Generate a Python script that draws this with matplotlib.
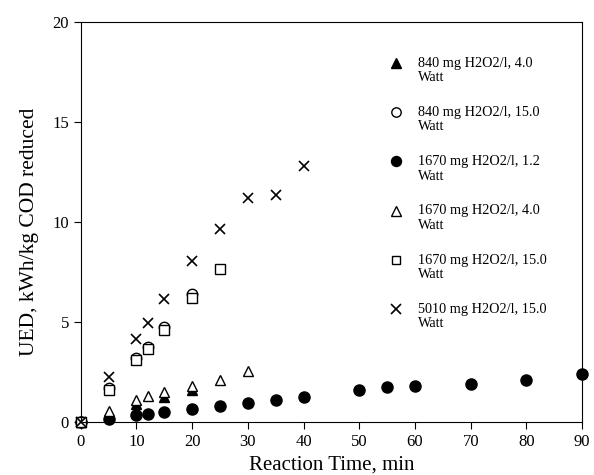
import matplotlib
matplotlib.use("Agg")
import matplotlib.pyplot as plt
import numpy as np
from matplotlib.legend_handler import HandlerLine2D

plt.rcParams['font.family'] = ['Liberation Serif', 'DejaVu Serif']

# 840 mg H2O2/l, 4.0 Watt
t_840_4 = [0, 5, 10, 15, 20]
u_840_4 = [0, 0.3, 0.88, 1.22, 1.57]
# 840 mg H2O2/l, 15.0 Watt
t_840_15 = [0, 5, 10, 12, 15, 20]
u_840_15 = [0, 1.7, 3.2, 3.76, 4.75, 6.4]
# 1670 mg H2O2/l, 1.2 Watt
t_1670_1 = [0, 5, 10, 12, 15, 20, 25, 30, 35, 40, 50, 55, 60, 70, 80, 90]
u_1670_1 = [0, 0.15, 0.36, 0.41, 0.5, 0.65, 0.81, 0.94, 1.08, 1.24, 1.57,
            1.72, 1.8, 1.9, 2.1, 2.4]
# 1670 mg H2O2/l, 4.0 Watt
t_1670_4 = [0, 5, 10, 12, 15, 20, 25, 30]
u_1670_4 = [0, 0.53, 1.08, 1.27, 1.49, 1.8, 2.1, 2.52]
# 1670 mg H2O2/l, 15.0 Watt
t_1670_15 = [0, 5, 10, 12, 15, 20, 25]
u_1670_15 = [0, 1.6, 3.1, 3.63, 4.59, 6.19, 7.62]
# 5010 mg H2O2/l, 15.0 Watt
t_5010_15 = [0, 5, 10, 12, 15, 20, 25, 30, 35, 40]
u_5010_15 = [0, 2.23, 4.12, 4.95, 6.16, 8.06, 9.63, 11.2, 11.35, 12.8]


# legend marker sits on the first text line, not in the middle of the two
class TopHandler(HandlerLine2D):
    def create_artists(self, legend, orig_handle, xdescent, ydescent,
                       width, height, fontsize, trans):
        arts = super().create_artists(legend, orig_handle, xdescent, ydescent,
                                      width, height, fontsize, trans)
        for a in arts:
            a.set_ydata(np.asarray(a.get_ydata()) + 5.5)
        return arts


fig = plt.figure(figsize=(5.94, 4.75), dpi=100)
ax = fig.add_subplot(111)
fig.subplots_adjust(left=0.136, right=0.98, top=0.954, bottom=0.112)

kw = dict(linestyle='none', color='black', clip_on=False)
ax.plot(t_840_4, u_840_4, marker='^', markersize=7.5, label='840 mg H2O2/l, 4.0\nWatt', **kw)
ax.plot(t_840_15, u_840_15, marker='o', markersize=7.5, markerfacecolor='white',
        label='840 mg H2O2/l, 15.0\nWatt', **kw)
ax.plot(t_1670_1, u_1670_1, marker='o', markersize=8, label='1670 mg H2O2/l, 1.2\nWatt', **kw)
ax.plot(t_1670_4, u_1670_4, marker='^', markersize=7.5, markerfacecolor='white',
        label='1670 mg H2O2/l, 4.0\nWatt', **kw)
ax.plot(t_1670_15, u_1670_15, marker='s', markersize=7, markerfacecolor='white',
        label='1670 mg H2O2/l, 15.0\nWatt', **kw)
ax.plot(t_5010_15, u_5010_15, marker='x', markersize=7.5, markeredgewidth=1.2,
        label='5010 mg H2O2/l, 15.0\nWatt', **kw)

ax.set_xlim(0, 90)
ax.set_ylim(0, 20)
ax.set_xticks(range(0, 91, 10))
ax.set_yticks(range(0, 21, 5))
ax.tick_params(direction='out', length=5, labelsize=12)
ax.set_xlabel('Reaction Time, min', fontsize=15, labelpad=4.5)
ax.set_ylabel('UED, kWh/kg COD reduced', fontsize=15.5)
ax.yaxis.set_label_coords(-0.084, 0.475)

leg = ax.legend(loc='upper left', bbox_to_anchor=(0.585, 0.945), frameon=False,
                fontsize=10.3, labelspacing=1.52, handletextpad=1.0, markerscale=0.9,
                handlelength=1.2, handler_map={matplotlib.lines.Line2D: TopHandler()})
for txt in leg.get_texts():
    txt.set_linespacing(1.15)

fig.savefig('out.png', dpi=100)
